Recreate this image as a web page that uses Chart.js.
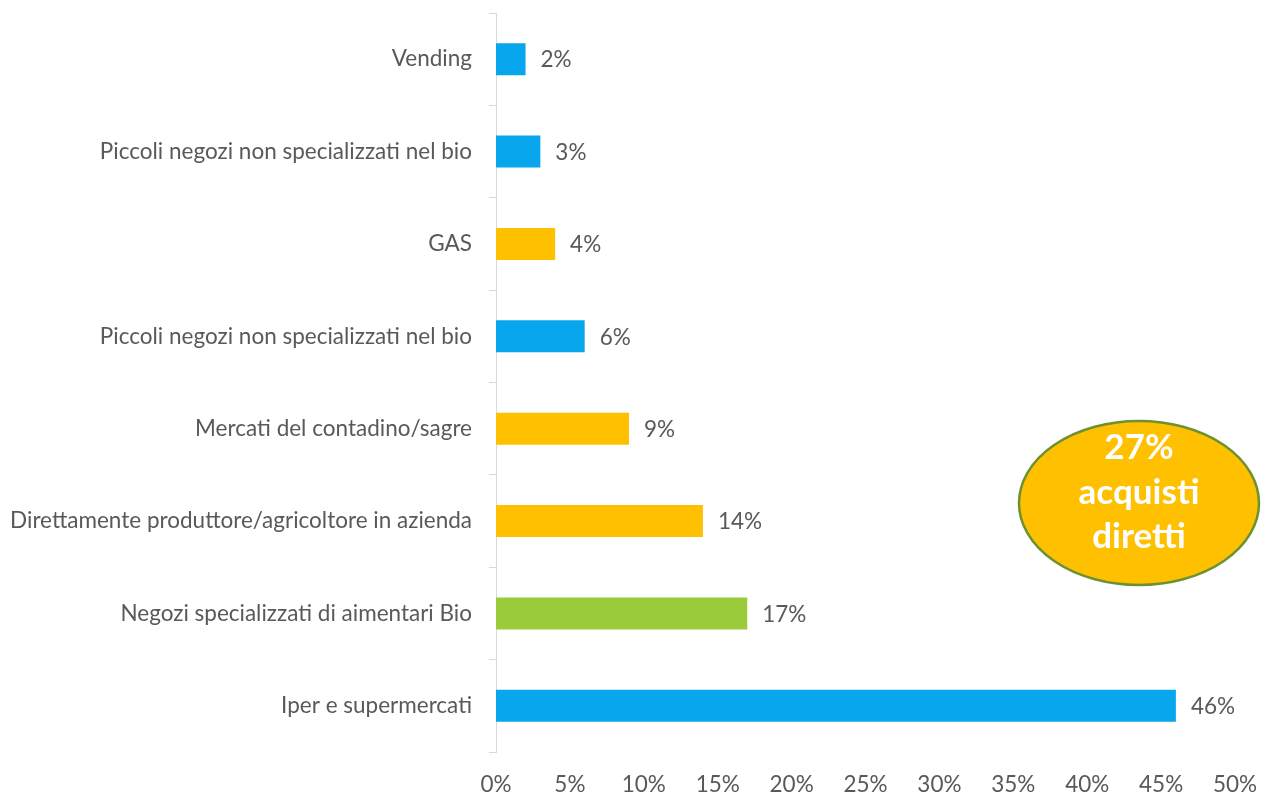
<!DOCTYPE html>
<html>
<head>
<meta charset="utf-8">
<script src="https://cdn.jsdelivr.net/npm/chart.js@4"></script>
<style>
html,body{margin:0;padding:0;background:#fff;}
#wrap{width:1262px;height:796px;position:relative;}
</style>
</head>
<body>
<div id="wrap"><canvas id="c" width="1262" height="796"></canvas></div>
<script>
const categories = [
  "Vending",
  "Piccoli negozi non specializzati nel bio",
  "GAS",
  "Piccoli negozi non specializzati nel bio",
  "Mercati del contadino/sagre",
  "Direttamente produttore/agricoltore in azienda",
  "Negozi specializzati di aimentari Bio",
  "Iper e supermercati"
];
const values = [2, 3, 4, 6, 9, 14, 17, 46];
const barColors = ["#08A6EC", "#08A6EC", "#FFC000", "#08A6EC", "#FFC000", "#FFC000", "#9ACB38", "#08A6EC"];
const xTicks = [0, 5, 10, 15, 20, 25, 30, 35, 40, 45, 50];
const calloutLines = ["27%", "acquisti", "diretti"];

const FONT = "Lato, 'Open Sans', sans-serif";
const FS = 22.5;

const valueLabels = {
  id: 'valueLabels',
  afterDatasetsDraw(chart) {
    const ctx = chart.ctx;
    const meta = chart.getDatasetMeta(0);
    ctx.save();
    ctx.font = FS + "px " + FONT;
    ctx.fillStyle = "#595959";
    ctx.textAlign = "left";
    ctx.textBaseline = "middle";
    meta.data.forEach((bar, i) => {
      ctx.fillText(values[i] + "%", bar.x + 15, bar.y + 1);
    });
    ctx.restore();
  }
};

const callout = {
  id: 'callout',
  afterDraw(chart) {
    const ctx = chart.ctx;
    const cx = 1139, cy = 503, rx = 120, ry = 82;
    ctx.save();
    ctx.beginPath();
    ctx.ellipse(cx, cy, rx, ry, 0, 0, Math.PI * 2);
    ctx.fillStyle = "#FFC000";
    ctx.fill();
    ctx.lineWidth = 2.5;
    ctx.strokeStyle = "#6E9130";
    ctx.stroke();
    ctx.fillStyle = "#ffffff";
    ctx.font = "bold 35px " + FONT;
    ctx.textAlign = "center";
    ctx.textBaseline = "middle";
    const ys = [448, 493, 537];
    calloutLines.forEach((t, i) => ctx.fillText(t, cx, ys[i]));
    ctx.restore();
  }
};

new Chart(document.getElementById('c'), {
  type: 'bar',
  data: {
    labels: categories,
    datasets: [{
      data: values,
      backgroundColor: barColors,
      borderWidth: 0,
      barPercentage: 0.346,
      categoryPercentage: 1.0
    }]
  },
  options: {
    indexAxis: 'y',
    responsive: false,
    animation: false,
    devicePixelRatio: 1,
    layout: { padding: { top: 13, right: 27, left: 0, bottom: 0 } },
    plugins: { legend: { display: false }, tooltip: { enabled: false } },
    scales: {
      y: {
        type: 'category',
        afterFit(s) { s.width = 496; s.paddingTop = 0; s.paddingBottom = 0; },
        grid: { display: true, drawOnChartArea: false, drawTicks: true, tickLength: 7, color: "#d9d9d9", offset: true },
        border: { display: true, color: "#d9d9d9", width: 1 },
        ticks: { color: "#595959", font: { family: FONT, size: FS }, padding: 17 }
      },
      x: {
        min: 0, max: 50,
        afterFit(s) { s.height = 44; s.paddingLeft = 0; s.paddingRight = 0; },
        afterBuildTicks(s) { s.ticks = xTicks.map(v => ({ value: v })); },
        grid: { display: false, drawTicks: false },
        border: { display: false },
        ticks: { color: "#595959", font: { family: FONT, size: FS }, padding: 19, callback: v => v + "%" }
      }
    }
  },
  plugins: [valueLabels, callout]
});
</script>
</body>
</html>
